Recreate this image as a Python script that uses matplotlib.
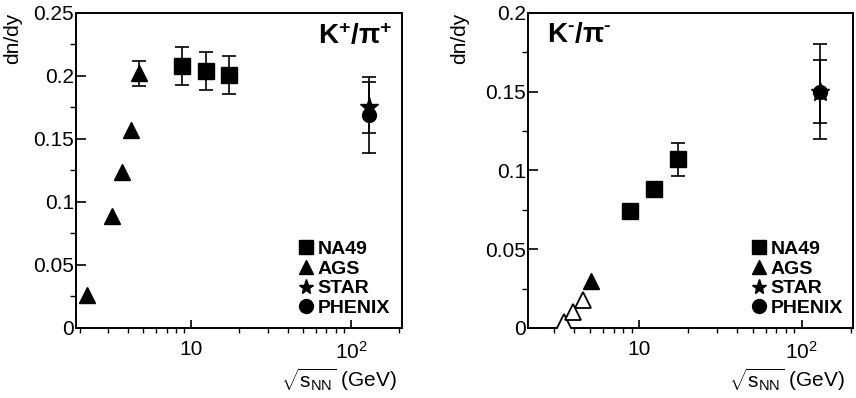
import matplotlib
matplotlib.use('Agg')
import matplotlib.pyplot as plt
from matplotlib.lines import Line2D
from matplotlib.ticker import MultipleLocator, FixedLocator, FixedFormatter, LogLocator, NullFormatter

plt.rcParams['font.family'] = ['Liberation Sans', 'DejaVu Sans']
plt.rcParams['mathtext.fontset'] = 'custom'
plt.rcParams['mathtext.rm'] = 'Liberation Sans'
plt.rcParams['mathtext.it'] = 'Liberation Sans:italic'
plt.rcParams['mathtext.bf'] = 'Liberation Sans:bold'

# sqrt(s_NN) of the experiments
na49_x = [8.8, 12.3, 17.3]
rhic_x = [130.0]

# K+/pi+ (left)
kp_na49 = [0.208, 0.204, 0.201]
kp_na49_err = [0.015, 0.015, 0.015]
kp_ags_x = [2.22, 3.18, 3.68, 4.2, 4.72]
kp_ags = [0.026, 0.089, 0.124, 0.157, 0.202]
kp_ags_err = [0, 0, 0, 0, 0.010]
kp_star = [0.175]
kp_star_err = [0.020]
kp_phenix = [0.169]
kp_phenix_err = [0.030]

# K-/pi- (right)
km_na49 = [0.074, 0.088, 0.107]
km_na49_err = [0, 0, 0.0105]
km_ags_x = [5.06]
km_ags = [0.030]
km_ags_open_x = [3.44, 3.92, 4.51]
km_ags_open = [0.004, 0.010, 0.018]
km_star = [0.150]
km_star_err = [0.020]
km_phenix = [0.150]
km_phenix_err = [0.030]

xtick_vals = [10, 100]
xtick_labels = ['10', r'$10^{2}$']
legend_labels = ['NA49', 'AGS', 'STAR', 'PHENIX']


def errbars(ax, x, y, err):
    # only points that actually carry an error bar
    pts = [(a, b, e) for a, b, e in zip(x, y, err) if e > 0]
    if not pts:
        return
    xs, ys, es = zip(*pts)
    ax.errorbar(xs, ys, yerr=es, fmt='none', ecolor='k', elinewidth=1.2,
                capsize=5, capthick=1.2, zorder=2)


def style_axes(ax, xlim, ylim):
    ax.set_xscale('log')
    ax.set_xlim(*xlim)
    ax.set_ylim(*ylim)
    ax.xaxis.set_major_locator(FixedLocator(xtick_vals))
    ax.xaxis.set_major_formatter(FixedFormatter(xtick_labels))
    ax.xaxis.set_minor_locator(LogLocator(base=10, subs=range(2, 10)))
    ax.xaxis.set_minor_formatter(NullFormatter())
    ax.yaxis.set_major_locator(MultipleLocator(0.05))
    ax.yaxis.set_minor_locator(MultipleLocator(0.025))
    ax.yaxis.set_major_formatter(plt.FuncFormatter(lambda v, p: ('%g' % round(v, 3))))
    ax.tick_params(direction='in', top=False, right=False, labelsize=15, width=1.2)
    ax.tick_params(axis='y', which='major', length=7, pad=1.5)
    ax.tick_params(axis='y', which='minor', length=4, width=1.0)
    ax.tick_params(axis='x', which='major', length=6, pad=9)
    ax.tick_params(axis='x', which='minor', length=3.5, width=1.0)
    for s in ax.spines.values():
        s.set_linewidth(1.4)
    ax.set_ylabel('dn/dy', loc='top', fontsize=15)
    ax.set_xlabel(r'$\sqrt{\mathrm{s_{NN}}}$ (GeV)', loc='right', fontsize=15)


def add_legend(ax, anchor):
    handles = [
        Line2D([], [], marker='s', ls='none', color='k', ms=10),
        Line2D([], [], marker='^', ls='none', color='k', ms=10),
        Line2D([], [], marker='*', ls='none', color='k', ms=11),
        Line2D([], [], marker='o', ls='none', color='k', ms=10),
    ]
    ax.legend(handles, legend_labels, loc='lower left', bbox_to_anchor=anchor,
              frameon=False, handlelength=0.7, handletextpad=0.25,
              labelspacing=0.1, borderpad=0, borderaxespad=0,
              prop={'weight': 'bold', 'size': 14})


fig = plt.figure(figsize=(8.56, 3.98), dpi=100)
ax1 = fig.add_axes([0.0888, 0.1759, 0.3808, 0.7915])
ax2 = fig.add_axes([0.6168, 0.1759, 0.3797, 0.7915])

# left panel: K+/pi+
errbars(ax1, na49_x, kp_na49, kp_na49_err)
errbars(ax1, kp_ags_x, kp_ags, kp_ags_err)
errbars(ax1, rhic_x, kp_star, kp_star_err)
errbars(ax1, rhic_x, kp_phenix, kp_phenix_err)
ax1.plot(na49_x, kp_na49, 's', color='k', ms=11, zorder=3)
ax1.plot(kp_ags_x, kp_ags, '^', color='k', ms=11, zorder=3)
ax1.plot(rhic_x, kp_phenix, 'o', color='k', ms=10, zorder=3)
ax1.plot(rhic_x, kp_star, '*', color='k', ms=14, zorder=4)
style_axes(ax1, (1.9, 208), (0, 0.25))
ax1.yaxis.set_label_coords(-0.165, 1.0)
ax1.xaxis.set_label_coords(0.985, -0.12)
ax1.text(0.97, 0.925, r'$\mathbf{K^{+}/\pi^{+}}$', transform=ax1.transAxes,
         ha='right', va='center', fontsize=20)
add_legend(ax1, (0.685, 0.035))

# right panel: K-/pi-
errbars(ax2, na49_x, km_na49, km_na49_err)
errbars(ax2, rhic_x, km_star, km_star_err)
errbars(ax2, rhic_x, km_phenix, km_phenix_err)
ax2.plot(na49_x, km_na49, 's', color='k', ms=11, zorder=3)
ax2.plot(km_ags_x, km_ags, '^', color='k', ms=11, zorder=3)
ax2.plot(km_ags_open_x, km_ags_open, '^', mfc='white', mec='k', mew=1.3, ms=11, zorder=3)
ax2.plot(rhic_x, km_phenix, 'o', color='k', ms=10, zorder=3)
ax2.plot(rhic_x, km_star, '*', color='k', ms=14, zorder=4)
style_axes(ax2, (2.07, 207), (0, 0.2))
ax2.yaxis.set_label_coords(-0.18, 1.0)
ax2.xaxis.set_label_coords(0.975, -0.12)
ax2.text(0.06, 0.93, '$\\mathbf{K^{\u2010}/\\pi^{\u2010}}$', transform=ax2.transAxes,
         ha='left', va='center', fontsize=20)
add_legend(ax2, (0.69, 0.035))

fig.savefig('out.png', dpi=100)
